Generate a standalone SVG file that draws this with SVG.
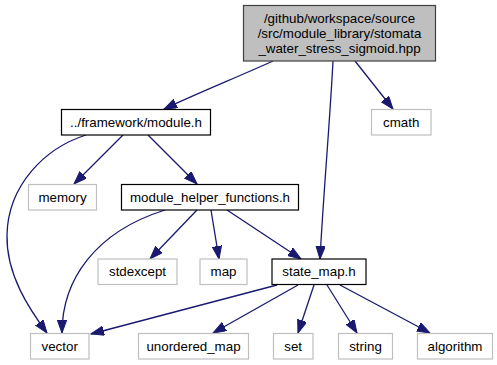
<svg xmlns="http://www.w3.org/2000/svg" width="497" height="365" viewBox="0 0 497 365">
  <style>
    .node rect { fill: #ffffff; stroke-width: 1.2; }
    .doc rect { stroke: #000000; }
    .ext rect { stroke: #bfbfbf; }
    .root rect { fill: #bfbfbf; stroke: #404040; }
    text { font-family: "Liberation Sans", Arial, Helvetica, sans-serif; font-size: 13.33px; fill: #000000; text-anchor: middle; }
    .edges path { fill: none; stroke: #191970; stroke-width: 1.3; }
  </style>
  <defs>
    <marker id="arrow" markerUnits="userSpaceOnUse" markerWidth="14" markerHeight="10" refX="13" refY="4.7" orient="auto">
      <path d="M0,0 L13,4.7 L0,9.4 z" fill="#191970" stroke="#191970" stroke-width="1"/>
    </marker>
  </defs>

  <!-- include edges -->
  <g id="edges" class="edges">
    <path marker-end="url(#arrow)" d="M273,61 C 240,76 198,93 164,109"/>
    <path marker-end="url(#arrow)" d="M333,61 C 330,120 323,200 320,259"/>
    <path marker-end="url(#arrow)" d="M355,61 L393,109"/>
    <path marker-end="url(#arrow)" d="M86,135 C 45,148 8,185 7,235 C 6,275 30,310 47,333"/>
    <path marker-end="url(#arrow)" d="M123,135 L74,184"/>
    <path marker-end="url(#arrow)" d="M148,135 L197,184"/>
    <path marker-end="url(#arrow)" d="M165,210 C 95,232 62,280 62,333"/>
    <path marker-end="url(#arrow)" d="M197,210 L150,259"/>
    <path marker-end="url(#arrow)" d="M211,210 L219,259"/>
    <path marker-end="url(#arrow)" d="M227,210 L301,259"/>
    <path marker-end="url(#arrow)" d="M277,285 L91,334"/>
    <path marker-end="url(#arrow)" d="M298,285 L213,333"/>
    <path marker-end="url(#arrow)" d="M314,285 L298,333"/>
    <path marker-end="url(#arrow)" d="M327,285 L357,333"/>
    <path marker-end="url(#arrow)" d="M340,285 L430,333"/>
  </g>

  <g id="node_root" class="node root">
    <rect x="243.5" y="5.5" width="192" height="55.5"/>
    <text x="339.5" y="22.5">/github/workspace/source</text>
    <text x="339.5" y="37.5">/src/module_library/stomata</text>
    <text x="339.5" y="52.5">_water_stress_sigmoid.hpp</text>
  </g>
  <g id="node_module" class="node doc">
    <rect x="61.5" y="109.5" width="149" height="25.5"/>
    <text x="136" y="126.7">../framework/module.h</text>
  </g>
  <g id="node_cmath" class="node ext">
    <rect x="371.5" y="109.5" width="59.5" height="25.5"/>
    <text x="401.2" y="126.7">cmath</text>
  </g>
  <g id="node_memory" class="node ext">
    <rect x="28.5" y="184.5" width="68" height="25.5"/>
    <text x="62.5" y="201.7">memory</text>
  </g>
  <g id="node_module_helper_functions" class="node doc">
    <rect x="121.5" y="184.5" width="177" height="25.5"/>
    <text x="210" y="201.7">module_helper_functions.h</text>
  </g>
  <g id="node_stdexcept" class="node ext">
    <rect x="98" y="259" width="79" height="25.5"/>
    <text x="137.5" y="276.2">stdexcept</text>
  </g>
  <g id="node_map" class="node ext">
    <rect x="200" y="259" width="47" height="25.5"/>
    <text x="223.5" y="276.2">map</text>
  </g>
  <g id="node_state_map" class="node doc">
    <rect x="272" y="259" width="94" height="25.5"/>
    <text x="319" y="276.2">state_map.h</text>
  </g>
  <g id="node_vector" class="node ext">
    <rect x="30.5" y="333.5" width="58.5" height="25.5"/>
    <text x="59.7" y="350.7">vector</text>
  </g>
  <g id="node_unordered_map" class="node ext">
    <rect x="138.5" y="333.5" width="110" height="25.5"/>
    <text x="193.5" y="350.7">unordered_map</text>
  </g>
  <g id="node_set" class="node ext">
    <rect x="273.5" y="333.5" width="39.5" height="25.5"/>
    <text x="293.2" y="350.7">set</text>
  </g>
  <g id="node_string" class="node ext">
    <rect x="338.5" y="333.5" width="54" height="25.5"/>
    <text x="365.5" y="350.7">string</text>
  </g>
  <g id="node_algorithm" class="node ext">
    <rect x="417.5" y="333.5" width="75" height="25.5"/>
    <text x="455" y="350.7">algorithm</text>
  </g>
</svg>
